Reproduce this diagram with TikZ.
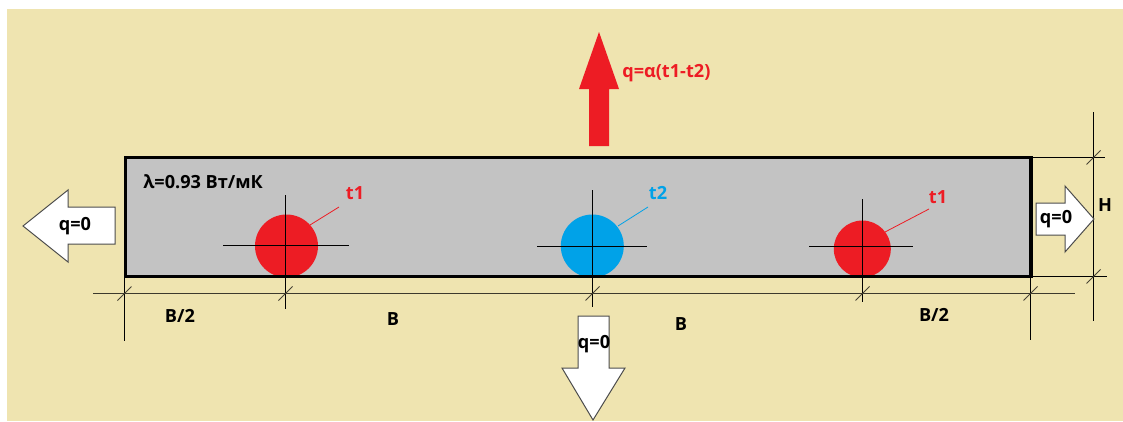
\documentclass[tikz,border=0pt]{standalone}
\usepackage{fontspec}
\setmainfont{Open Sans}
\definecolor{tanbg}{HTML}{EFE4B0}
\definecolor{plate}{HTML}{C3C3C3}
\definecolor{redc}{HTML}{ED1C24}
\definecolor{bluec}{HTML}{00A2E8}
\tikzset{
  x=0.75pt,y=-0.75pt,
  thinl/.style={line width=0.75pt,black},
  dim/.style={line width=0.75pt,black!75!tanbg},
  tick/.style={line width=0.75pt,black!70!tanbg},
  lead/.style={line width=0.6pt},
  wharrow/.style={draw=black!70,fill=white,line width=0.75pt,line join=miter},
  lab/.style={font=\bfseries\fontsize{13.6pt}{15pt}\selectfont,inner sep=0pt,text=black},
  redlab/.style={lab,text=redc},
  bluelab/.style={lab,text=bluec},
}
\begin{document}
\begin{tikzpicture}
\useasboundingbox (0,0) rectangle (1123,421);
\fill[white] (0,0) rectangle (1123,421);
\fill[tanbg] (7,9) rectangle (1123,421);
% plate
\coordinate (pnw) at (125.5,157.5);
\coordinate (pse) at (1031,276.5);
\fill[plate] (pnw) rectangle (pse);
% circles
\fill[redc] (286.5,246) circle[radius=31.5] coordinate (c1);
\fill[bluec] (592.3,246) circle[radius=31.5] coordinate (c2);
\fill[redc] (862.3,249) circle[radius=28.5] coordinate (c3);
\draw[black,line width=2.5pt] (pnw) rectangle (pse);
% centre lines
\draw[thinl] (223,245) -- (349,245);
\draw[thinl] (285,195) -- (285,309);
\draw[thinl] (537,246) -- (647,246);
\draw[thinl] (592,190) -- (592,307);
\draw[thinl] (809,246) -- (913,246);
\draw[thinl] (862,199) -- (862,302);
% leaders
\draw[redc,lead] (310,225) -- (339,207);
\draw[bluec,lead] (618,226) -- (648,207);
\draw[redc,lead] (885,232) -- (929,209);
% dimensions
\draw[dim] (93,293) -- (1075,293);
\draw[thinl] (124,277) -- (124,341);
\draw[thinl] (1030,277) -- (1030,340);
\draw[thinl] (1031,157) -- (1105,157);
\draw[thinl] (1031,276) -- (1107,276);
\draw[thinl] (1093,112) -- (1093,321);
\foreach \a/\b in {124/293,285/293,592/293,862/293,1030/293,1093/157,1093/276}
  \draw[tick] (\a-6.5,\b+7.5) -- (\a+7.5,\b-6.5);
% arrows
\draw[wharrow] (115,207) -- (68,207) -- (68,190) -- (23,226) -- (68,262) -- (68,244) -- (115,244) -- cycle;
\draw[wharrow] (1036,203) -- (1065,203) -- (1065,186) -- (1094,219) -- (1065,252) -- (1065,235) -- (1036,235) -- cycle;
\draw[wharrow] (578,316) -- (609,316) -- (609,368) -- (625,368) -- (593,420) -- (562,368) -- (578,368) -- cycle;
\fill[redc] (589,146) -- (609,146) -- (609,89) -- (619,89) -- (599,32) -- (579,89) -- (589,89) -- cycle;
% labels
\node[lab,anchor=west] (lam) at (143,182) {λ=0.93 Вт/мК};
\node[lab] (ql) at (75,226) {q=0};
\node[lab] (qr) at (1056,219) {q=0};
\node[lab] (qb) at (594,344) {q=0};
\node[lab] (H) at (1105,205) {H};
\node[lab] (b1) at (180,316) {B/2};
\node[lab] (b2) at (393,319) {B};
\node[lab] (b3) at (681,324) {B};
\node[lab] (b4) at (934,315) {B/2};
\node[redlab] (t1a) at (355,193) {t1};
\node[bluelab] (t2) at (658,193) {t2};
\node[redlab] (t1b) at (938,197) {t1};
\node[redlab,anchor=west] (qa) at (622,73) {q=α(t1-t2)};
\end{tikzpicture}
\end{document}
